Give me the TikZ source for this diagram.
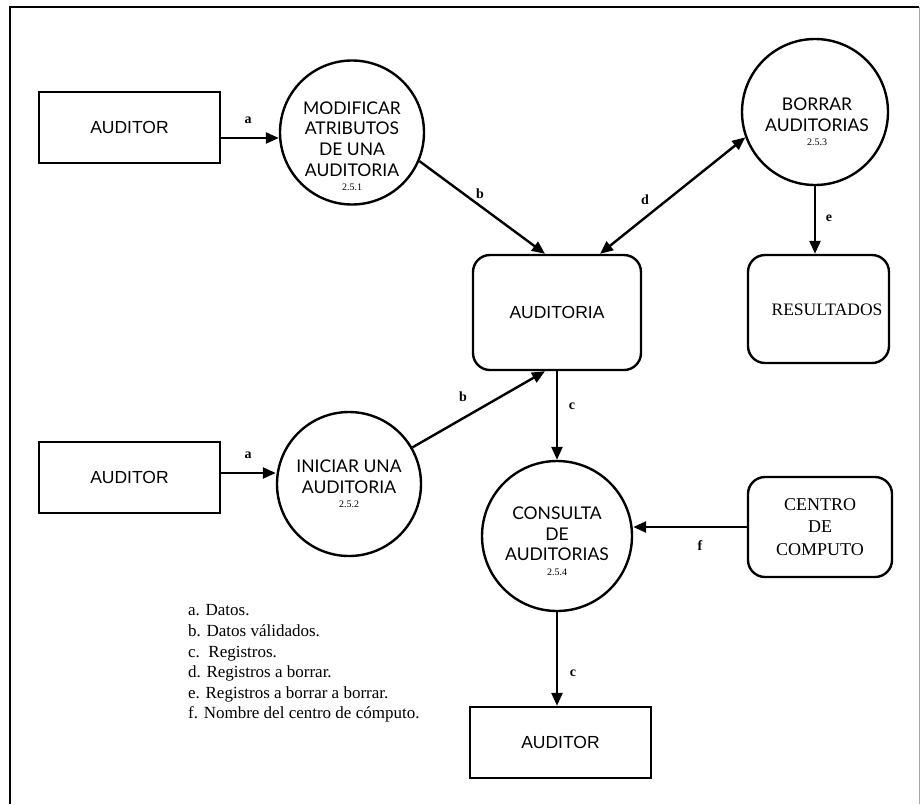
\documentclass[tikz,border=0pt]{standalone}
\usepackage{fontspec}
\setmainfont{Liberation Serif}
\newfontfamily\boxfont{Liberation Sans}
\newfontfamily\procfont{Lato}
\newcommand\pnumfont{\rmfamily\fontsize{10}{10}\selectfont}
\usetikzlibrary{arrows.meta,calc}

\begin{document}
\begin{tikzpicture}[x=1pt,y=-1pt,
  line/.style={line width=2.4pt},
  extbox/.style={draw, line, rectangle, inner sep=0pt,
    font=\boxfont\fontsize{17.5}{20}\selectfont},
  procnode/.style={draw, line, circle, inner sep=0pt},
  proctext/.style={align=center, inner sep=0pt,
    font=\procfont\fontsize{17.5}{20.7}\selectfont},
  storebox/.style={draw, line, rectangle, rounded corners=17pt, inner sep=0pt, align=center},
  flow/.style={line, -{Triangle[length=13pt,width=11pt]}},
  bothflow/.style={line, {Triangle[length=13pt,width=11pt]}-{Triangle[length=13pt,width=11pt]}},
  flowlbl/.style={font=\bfseries\fontsize{14}{14}\selectfont, inner sep=0pt}
]
\useasboundingbox (0,0) rectangle (921,804);
\fill[white] (0,0) rectangle (921,804);

% sheet frame (open at the bottom)
\draw[line width=2pt] (10,804) -- (10,7) -- (919,7);
\draw[line width=0.8pt, black!35] (919,7) -- (919,804);

% external entities
\node[extbox, minimum width=181pt, minimum height=71pt] (aud1) at (129.5,127.5) {AUDITOR};
\node[extbox, minimum width=181pt, minimum height=71pt] (aud2) at (129.5,477.5) {AUDITOR};
\node[extbox, minimum width=181pt, minimum height=71pt] (aud3) at (560.5,742.5) {AUDITOR};

% processes
\node[procnode, minimum size=144pt] (mod) at (352,132.5) {};
\node[proctext] (modtxt) at (352,146)
  {MODIFICAR\\ATRIBUTOS\\DE UNA\\AUDITORIA\\[-6.5pt]{\pnumfont 2.5.1}};
\node[procnode, minimum size=146pt] (borrar) at (815,112) {};
\node[proctext] (borrartxt) at (817,122)
  {BORRAR\\AUDITORIAS\\[-6pt]{\pnumfont 2.5.3}};
\node[procnode, minimum size=144pt] (iniciar) at (349,484) {};
\node[proctext] (iniciartxt) at (349,484)
  {INICIAR UNA\\AUDITORIA\\[-6.5pt]{\pnumfont 2.5.2}};
\node[procnode, minimum size=150pt] (consulta) at (557,536) {};
\node[proctext] (consultatxt) at (557,541)
  {CONSULTA\\DE\\AUDITORIAS\\[-6.5pt]{\pnumfont 2.5.4}};

% data stores
\node[storebox, minimum width=168pt, minimum height=115pt,
  font=\boxfont\fontsize{17.5}{20}\selectfont] (auditoria) at (557,312.5) {AUDITORIA};
\node[storebox, minimum width=141pt, minimum height=108pt] (resultados) at (818.5,309) {};
\node[font=\fontsize{17.5}{20}\selectfont, inner sep=0pt] (resultadostxt) at (827,310) {RESULTADOS};
\node[storebox, minimum width=144pt, minimum height=100pt,
  font=\fontsize{18}{22.5}\selectfont] (centro) at (820,527) {CENTRO\\DE\\COMPUTO};

% flows
\coordinate (rowa1) at (0,138);
\coordinate (rowa2) at (0,473);
\draw[flow] (aud1.east |- rowa1) -- (mod.west |- rowa1);
\draw[flow] (aud2.east |- rowa2) -- (iniciar.west |- rowa2);
\draw[flow] (mod.-23) -- ($(auditoria.north)+(-12,0)$);
\draw[flow] (iniciar.30) -- ($(auditoria.south)+(-12,0)$);
\draw[bothflow] ($(auditoria.north)+(43,0)$) -- (borrar.200);
\draw[flow] (borrar.south) -- (borrar.south |- resultados.north);
\draw[flow] (auditoria.south) -- (consulta.north);
\draw[flow] (centro.west) -- (consulta.east |- centro.west);
\draw[flow] (consulta.south) -- (consulta.south |- aud3.north);

% flow labels
\node[flowlbl] (la1) at (248,120) {a};
\node[flowlbl] (la2) at (248,455) {a};
\node[flowlbl] (lb1) at (480,194) {b};
\node[flowlbl] (lb2) at (463,397) {b};
\node[flowlbl] (lc1) at (572,406) {c};
\node[flowlbl] (lc2) at (573,673) {c};
\node[flowlbl] (ld) at (645,200) {d};
\node[flowlbl] (le) at (829,218) {e};
\node[flowlbl] (lf) at (700,546) {f};

% legend
\node[anchor=north west, align=left, inner sep=0pt,
  font=\fontsize{17}{20.6}\selectfont] (legend) at (188,604.5)
  {a. Datos.\\
   b. Datos válidados.\\
   c.\ \ Registros.\\
   d. Registros a borrar.\\
   e. Registros a borrar a borrar.\\
   f. Nombre del centro de cómputo.};
\end{tikzpicture}
\end{document}
